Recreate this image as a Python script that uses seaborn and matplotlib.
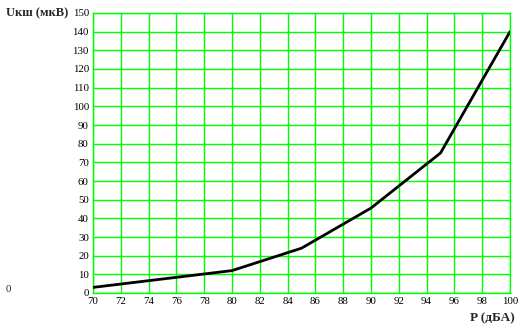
import matplotlib
matplotlib.use("Agg")
import matplotlib.pyplot as plt
import seaborn as sns
import pandas as pd

x_vals = [70, 80, 85, 90, 95, 100]
y_vals = [3, 12, 24, 45.5, 75, 140]
x_ticks = list(range(70, 101, 2))
y_ticks = list(range(0, 151, 10))

sns.set_theme(style="white")
plt.rcParams['font.family'] = ['Liberation Serif', 'DejaVu Serif']

df = pd.DataFrame({"P": x_vals, "U": y_vals})

fig = plt.figure(figsize=(5.31, 3.30), dpi=100)
ax = fig.add_axes([93/531, 1-293/330, (510-93)/531, (293-13)/330])

sns.lineplot(data=df, x="P", y="U", ax=ax, color="black", linewidth=2.0, zorder=3)

ax.set_xlim(70, 100)
ax.set_ylim(0, 150)
ax.set_xticks(x_ticks)
ax.set_yticks(y_ticks)
ax.set_xticklabels([str(t) for t in x_ticks], fontsize=7.8)
ax.set_yticklabels([str(t) for t in y_ticks], fontsize=7.8)
ax.tick_params(axis="both", length=0, pad=3, colors="black")
ax.grid(True, color="#00ff00", linewidth=1.0)
for s in ax.spines.values():
    s.set_color("#00ff00")
    s.set_linewidth(1.0)
ax.set_xlabel("")
ax.set_ylabel("")

fig.text(6/531, 1-13/330, "Uкш (мкВ)", fontsize=9, fontweight="bold", va="center", ha="left")
fig.text(515/531, 1-318/330, "P (дБА)", fontsize=9.5, fontweight="bold", va="center", ha="right")
fig.text(8/531, 1-290/330, "0", fontsize=7.8, va="center", ha="center")

fig.savefig("out.png", dpi=100)
